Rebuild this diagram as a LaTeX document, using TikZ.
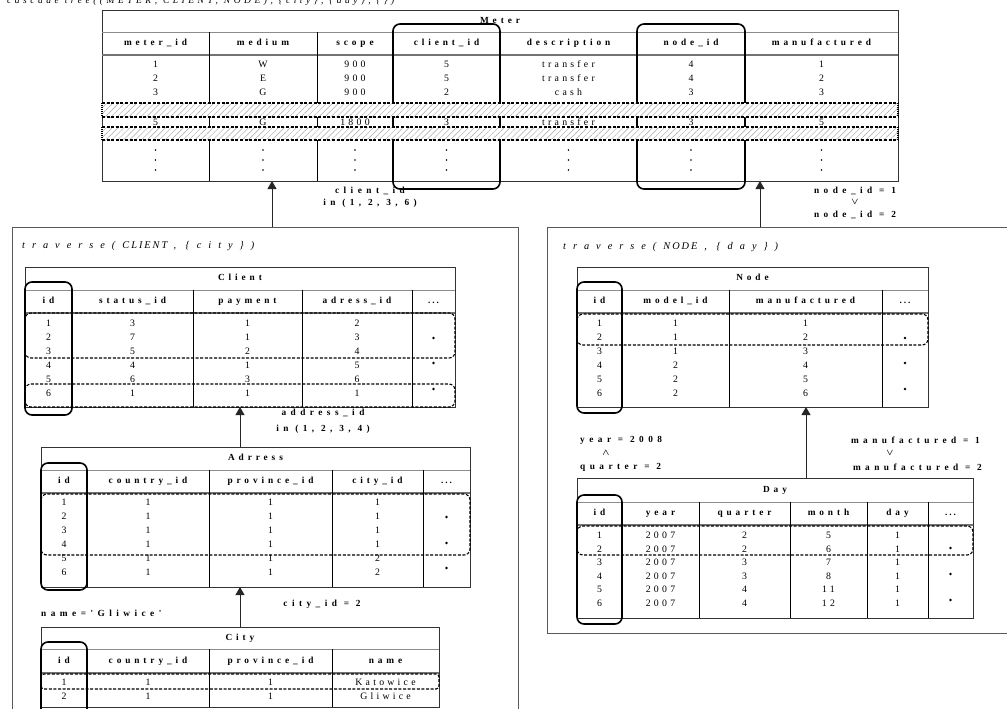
\documentclass[tikz,border=0pt]{standalone}
\usepackage{amsmath}
\usepackage{fontspec}
\setmainfont{Liberation Serif}
\newfontfamily\hdfont[LetterSpace=42]{Liberation Serif}
\newfontfamily\labfont[LetterSpace=48]{Liberation Serif}
\newfontfamily\dtfont[LetterSpace=33]{Liberation Serif}
\newfontfamily\ttlfont[LetterSpace=68]{Liberation Serif}
\newfontfamily\capfont[LetterSpace=37]{Liberation Serif}
\usetikzlibrary{patterns,patterns.meta,arrows.meta,calc}
\newcommand\trow[4]{\foreach \vv [count=\ci] in {#4}{\pgfmathsetmacro\xx{{#2}[\ci-1]}\node[dt] (#1\ci) at (\xx,#3) {\vv};}}
\newcommand\hrow[4]{\foreach \vv [count=\ci] in {#4}{\pgfmathsetmacro\xx{{#2}[\ci-1]}\node[hd] (#1\ci) at (\xx,#3) {\vv};}}
\newcommand\moredots{.\kern2pt.\kern2pt.}
\tikzset{
 hd/.style={font=\hdfont\bfseries\fontsize{9.3}{10}\selectfont, inner sep=0pt, text height=6.3pt, text depth=1.6pt},
 dt/.style={font=\dtfont\fontsize{9.8}{11}\selectfont, inner sep=0pt, text height=6.6pt, text depth=1.6pt},
 lab/.style={font=\labfont\bfseries\fontsize{9.3}{10}\selectfont, inner sep=0pt},
 ttl/.style={font=\ttlfont\itshape\fontsize{10.3}{12}\selectfont, inner sep=0pt, anchor=west},
 tbl/.style={draw=black!80, line width=0.8pt, inner sep=0pt, outer sep=0pt},
 tline/.style={draw=black!45, line width=0.8pt},
 hline/.style={draw=black!55, line width=1.4pt},
 cline/.style={draw=black, line width=0.7pt},
 idbox/.style={draw=black, line width=1.6pt, rounded corners=7pt},
 selbox/.style={draw=black, line width=1.1pt, dash pattern=on 3pt off 1.6pt, rounded corners=6pt},
 dline/.style={draw=black, line width=1.1pt, dash pattern=on 3pt off 1.6pt},
 vdots/.style={draw=black, line width=2pt, dash pattern=on 1pt off 1pt},
 band/.style={preaction={fill=white}, pattern={Lines[angle=45,distance=4.2pt,line width=0.45pt]}, pattern color=black!35},
 arr/.style={draw=black!85, line width=0.9pt, -{Triangle[width=9pt,length=8pt]}},
 frame/.style={draw=black!65, line width=0.9pt, inner sep=0pt, outer sep=0pt},
}
\begin{document}
\begin{tikzpicture}[x=1pt,y=-1pt]
\useasboundingbox (0,0) rectangle (1007,709);
% top caption (cut by page edge, as in the reference)
\node[inner sep=0pt, anchor=base west, font=\capfont\itshape\fontsize{9.5}{11}\selectfont] (caption) at (7,4) {cascade tree((METER, CLIENT, NODE), \{city\}, \{day\}, \{\})};

% ================= METER =================
\node[tbl, anchor=north west, minimum width=796pt, minimum height=171pt] (meter) at (102,10) {};
\node[hd] (meterT) at (500,21) {Meter};
\draw[tline] (102,32) -- (898,32);
\draw[hline] (102,55) -- (898,55);
\foreach \x in {209,317,393,500,637,745} \draw[cline] (\x,32) -- (\x,181);
\hrow{mh}{155.5,263,355,446.5,568.5,691,821.5}{43.5}{meter\_id,medium,scope,client\_id,description,node\_id,manufactured}
\trow{ma}{155.5,263,355,446.5,568.5,691,821.5}{65}{1,W,900,5,transfer,4,1}
\trow{mb}{155.5,263,355,446.5,568.5,691,821.5}{79}{2,E,900,5,transfer,4,2}
\trow{mc}{155.5,263,355,446.5,568.5,691,821.5}{93}{3,G,900,2,cash,3,3}
\trow{md}{155.5,263,355,446.5,568.5,691,821.5}{123}{5,G,1800,3,transfer,3,5}
\foreach \x in {155.5,263,355,446.5,568.5,691,821.5}
  \foreach \y in {150,160,170} \fill (\x,\y) circle (0.9pt);
\draw[idbox] (393,24) rectangle (500,189);
\draw[idbox] (637,24) rectangle (745,189);
% hatched bands
\path[band] (102,103) rectangle (898,117);
\path[band] (102,127) rectangle (898,140);
\foreach \y in {103,117,127,140} \draw[dline] (102,\y) -- (898,\y);
\foreach \x in {102,898} {\draw[vdots] (\x,103) -- (\x,117); \draw[vdots] (\x,127) -- (\x,140);}
% labels under Meter
\node[lab] (l1a) at (370,191) {client\_id};
\node[lab] (l1b) at (370,203) {in (1, 2, 3, 6)};
\node[lab] (l2a) at (855,191) {node\_id = 1};
\node[lab] (l2b) at (855,202) {$\boldsymbol{\vee}$};
\node[lab] (l2c) at (855,215) {node\_id = 2};

% ================= CLIENT FRAME =================
\node[frame, anchor=north west, minimum width=506pt, minimum height=500pt] (clientframe) at (12,227) {};
\node[ttl] (ctitle) at (22,246) {traverse(C\kern2pt L\kern2pt I\kern2pt E\kern2pt N\kern2pt T, \{city\})};

% Client table
\node[tbl, anchor=north west, minimum width=430pt, minimum height=140pt] (client) at (25,267) {};
\node[hd] (clientT) at (240,278.5) {Client};
\draw[tline] (25,290) -- (455,290);
\draw[hline] (25,313) -- (455,313);
\foreach \x in {72,193,302,412} \draw[cline] (\x,290) -- (\x,407);
\hrow{ch}{48.5,132.5,247.5,357,433.5}{301.5}{id,status\_id,payment,adress\_id,\moredots}
\trow{c1-}{48.5,132.5,247.5,357}{324}{1,3,1,2}
\trow{c2-}{48.5,132.5,247.5,357}{338}{2,7,1,3}
\trow{c3-}{48.5,132.5,247.5,357}{352}{3,5,2,4}
\trow{c4-}{48.5,132.5,247.5,357}{366}{4,4,1,5}
\trow{c5-}{48.5,132.5,247.5,357}{380}{5,6,3,6}
\trow{c6-}{48.5,132.5,247.5,357}{394}{6,1,1,1}
\foreach \y in {338,363,389} \fill (433.5,\y) circle (1.3pt);
\draw[idbox] (25,282) rectangle (72,415);
\draw[selbox] (25,313) rectangle (455,358);
\draw[selbox] (25,384) rectangle (455,407);

% Address table
\node[tbl, anchor=north west, minimum width=429pt, minimum height=140pt] (address) at (41,447) {};
\node[hd] (addressT) at (255.5,458.5) {Adrress};
\draw[tline] (41,470) -- (470,470);
\draw[hline] (41,493) -- (470,493);
\foreach \x in {87,209,332,423} \draw[cline] (\x,470) -- (\x,587);
\hrow{ah}{64,148,270.5,377.5,446.5}{481.5}{id,country\_id,province\_id,city\_id,\moredots}
\trow{a1-}{64,148,270.5,377.5}{503}{1,1,1,1}
\trow{a2-}{64,148,270.5,377.5}{517}{2,1,1,1}
\trow{a3-}{64,148,270.5,377.5}{531}{3,1,1,1}
\trow{a4-}{64,148,270.5,377.5}{545}{4,1,1,1}
\trow{a5-}{64,148,270.5,377.5}{559}{5,1,1,2}
\trow{a6-}{64,148,270.5,377.5}{573}{6,1,1,2}
\foreach \y in {517,543,568} \fill (446.5,\y) circle (1.3pt);
\draw[idbox] (41,463) rectangle (87,590);
\draw[selbox] (41,494) rectangle (470,555);
\draw[arr] (address.north -| client.south) -- (client.south);
\node[lab] (l3a) at (323,413) {address\_id};
\node[lab] (l3b) at (323,429) {in (1, 2, 3, 4)};

% City table
\node[tbl, anchor=north west, minimum width=398pt, minimum height=80pt] (city) at (41,627) {};
\node[hd] (cityT) at (240,638) {City};
\draw[tline] (41,649) -- (439,649);
\draw[hline] (41,673) -- (439,673);
\foreach \x in {87,209,332} \draw[cline] (\x,649) -- (\x,707);
\hrow{yh}{64,148,270.5,385.5}{661}{id,country\_id,province\_id,name}
\trow{y1-}{64,148,270.5,385.5}{683}{1,1,1,Katowice}
\trow{y2-}{64,148,270.5,385.5}{697}{2,1,1,Gliwice}
\draw[idbox] (41,642) rectangle (87,725);
\draw[selbox, rounded corners=3pt] (41,674) rectangle (439,689);
\draw[arr] (city.north) -- (address.south -| city.north);
\node[lab] (l4) at (322,604) {city\_id = 2};
\node[lab, anchor=west] (l5) at (41,613) {name='Gliwice'};

% ================= NODE FRAME =================
\node[frame, anchor=north west, minimum width=470pt, minimum height=406pt] (nodeframe) at (547,227) {};
\node[ttl] (ntitle) at (563,247) {traverse(N\kern2pt O\kern2pt D\kern2pt E, \{day\})};

% Node table
\node[tbl, anchor=north west, minimum width=351pt, minimum height=140pt] (node) at (577,267) {};
\node[hd] (nodeT) at (752.5,278.5) {Node};
\draw[tline] (577,290) -- (928,290);
\draw[hline] (577,313) -- (928,313);
\foreach \x in {622,729,882} \draw[cline] (\x,290) -- (\x,407);
\hrow{nh}{599.5,675.5,805.5,905}{301.5}{id,model\_id,manufactured,\moredots}
\trow{n1-}{599.5,675.5,805.5}{324}{1,1,1}
\trow{n2-}{599.5,675.5,805.5}{338}{2,1,2}
\trow{n3-}{599.5,675.5,805.5}{352}{3,1,3}
\trow{n4-}{599.5,675.5,805.5}{366}{4,2,4}
\trow{n5-}{599.5,675.5,805.5}{380}{5,2,5}
\trow{n6-}{599.5,675.5,805.5}{394}{6,2,6}
\foreach \y in {338,363,389} \fill (905,\y) circle (1.3pt);
\draw[idbox] (577,282) rectangle (622,413);
\draw[selbox] (577,314) rectangle (928,345);

% Day table
\node[tbl, anchor=north west, minimum width=396pt, minimum height=140pt] (day) at (577,478) {};
\node[hd] (dayT) at (775,490) {Day};
\draw[tline] (577,502) -- (973,502);
\draw[hline] (577,525) -- (973,525);
\foreach \x in {622,699,790,867,928} \draw[cline] (\x,502) -- (\x,618);
\hrow{dh}{599.5,660.5,744.5,828.5,897.5,950.5}{513.5}{id,year,quarter,month,day,\moredots}
\trow{d1-}{599.5,660.5,744.5,828.5,897.5}{536}{1,2007,2,5,1}
\trow{d2-}{599.5,660.5,744.5,828.5,897.5}{549.5}{2,2007,2,6,1}
\trow{d3-}{599.5,660.5,744.5,828.5,897.5}{563}{3,2007,3,7,1}
\trow{d4-}{599.5,660.5,744.5,828.5,897.5}{576.5}{4,2007,3,8,1}
\trow{d5-}{599.5,660.5,744.5,828.5,897.5}{590}{5,2007,4,11,1}
\trow{d6-}{599.5,660.5,744.5,828.5,897.5}{603.5}{6,2007,4,12,1}
\foreach \y in {548,574,600} \fill (950.5,\y) circle (1.3pt);
\draw[idbox] (577,495) rectangle (622,624);
\draw[selbox] (577,526) rectangle (973,555);
\coordinate (nB) at (806,407);
\draw[arr] (day.north -| nB) -- (nB);
\node[lab, anchor=west] (l6a) at (580,440) {year = 2008};
\node[lab] (l6b) at (606,453) {$\boldsymbol{\wedge}$};
\node[lab, anchor=west] (l6c) at (580,467) {quarter = 2};
\node[lab, anchor=east] (l7a) at (980,440) {manufactured = 1};
\node[lab] (l7b) at (890,453) {$\boldsymbol{\vee}$};
\node[lab, anchor=east] (l7c) at (982,467) {manufactured = 2};

% arrows to Meter
\coordinate (mB1) at (272,181);
\coordinate (mB2) at (760,181);
\draw[arr] (clientframe.north -| mB1) -- (mB1);
\draw[arr] (nodeframe.north -| mB2) -- (mB2);
\end{tikzpicture}
\end{document}
